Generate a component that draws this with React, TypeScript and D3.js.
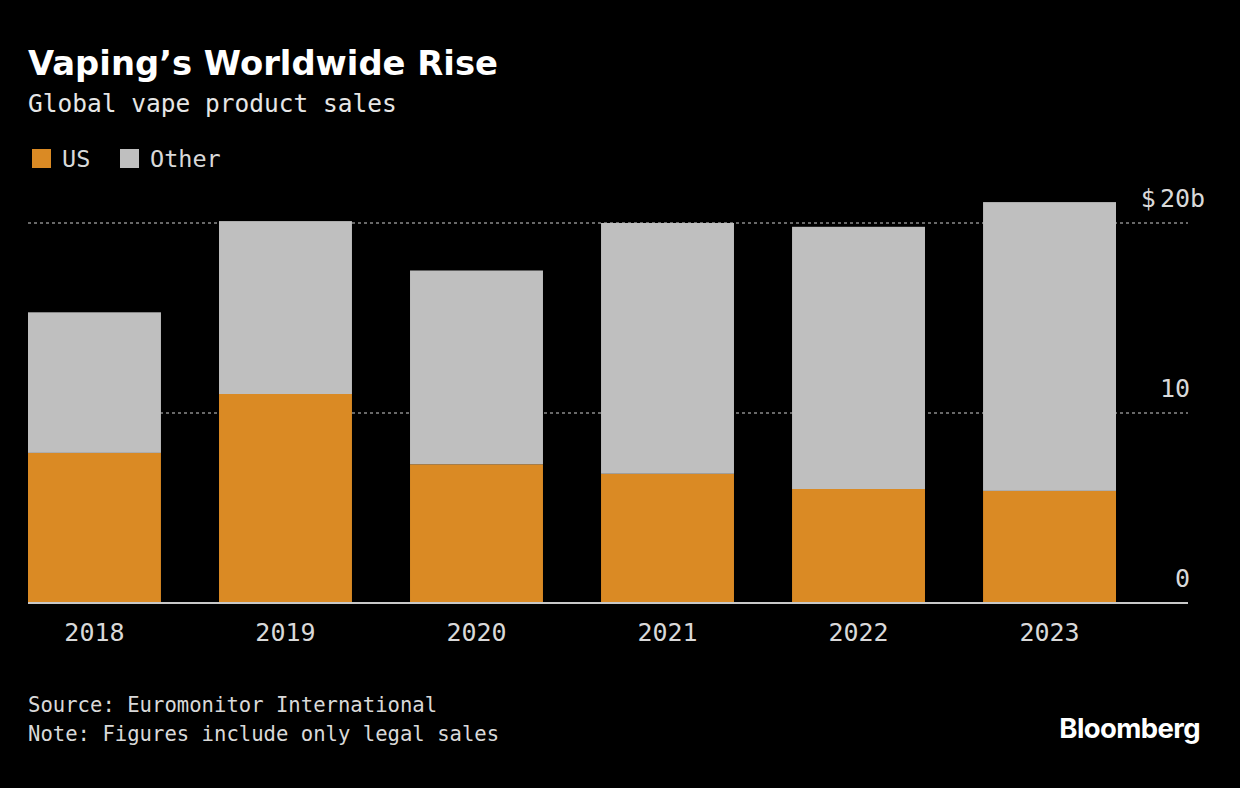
import React, { useEffect, useRef } from "react";
import * as d3 from "d3";

const years = ["2018", "2019", "2020", "2021", "2022", "2023"];
const usSales = [7.9, 11.0, 7.3, 6.8, 6.0, 5.9];
const otherSales = [7.4, 9.1, 10.2, 13.2, 13.8, 15.2];
const tickValues = [0, 10, 20];

const WIDTH = 1240;
const HEIGHT = 788;
const ORANGE = "#DA8A24";
const GRAY = "#BFBFBF";
const MONO = "'DejaVu Sans Mono', monospace";

const App = () => {
  const svgRef = useRef<SVGSVGElement>(null);

  useEffect(() => {
    const svg = d3.select(svgRef.current);
    svg.selectAll("*").remove();

    svg.append("rect").attr("width", WIDTH).attr("height", HEIGHT).attr("fill", "#000");

    // titles
    svg
      .append("text")
      .attr("x", 28)
      .attr("y", 75)
      .attr("fill", "#fff")
      .style("font-family", "'DejaVu Sans', sans-serif")
      .style("font-weight", "bold")
      .style("font-size", "33.8px")
      .text("Vaping’s Worldwide Rise");

    svg
      .append("text")
      .attr("x", 28)
      .attr("y", 112)
      .attr("fill", "#e6e6e6")
      .style("font-family", MONO)
      .style("font-size", "24.5px")
      .text("Global vape product sales");

    // legend
    const legend = [
      { label: "US", color: ORANGE, x: 32 },
      { label: "Other", color: GRAY, x: 120 },
    ];
    const lg = svg.selectAll(".legend").data(legend).enter().append("g");
    lg.append("rect")
      .attr("x", (d) => d.x)
      .attr("y", 149)
      .attr("width", 19)
      .attr("height", 19)
      .attr("fill", (d) => d.color);
    lg.append("text")
      .attr("x", (d) => d.x + 30)
      .attr("y", 167)
      .attr("fill", "#d9d9d9")
      .style("font-family", MONO)
      .style("font-size", "23.5px")
      .text((d) => d.label);

    const x = d3.scaleBand().domain(years).range([28, 1116]).paddingInner(0.304).paddingOuter(0);
    const y = d3.scaleLinear().domain([0, 20]).range([603, 223]);

    // grid
    svg
      .selectAll(".grid")
      .data(tickValues.filter((t) => t > 0))
      .enter()
      .append("line")
      .attr("x1", 28)
      .attr("x2", 1188)
      .attr("y1", (d) => y(d))
      .attr("y2", (d) => y(d))
      .attr("stroke", "#8a8a8a")
      .attr("stroke-width", 1.5)
      .attr("stroke-dasharray", "3,3");

    const table = years.map((yr, i) => ({ year: yr, us: usSales[i], other: otherSales[i] }));
    const series = d3.stack<any>().keys(["us", "other"])(table);
    const colors: Record<string, string> = { us: ORANGE, other: GRAY };

    svg
      .selectAll(".series")
      .data(series)
      .enter()
      .append("g")
      .attr("fill", (d) => colors[d.key])
      .selectAll("rect")
      .data((d) => d)
      .enter()
      .append("rect")
      .attr("x", (d: any) => x(d.data.year)!)
      .attr("width", x.bandwidth())
      .attr("y", (d) => y(d[1]))
      .attr("height", (d) => y(d[0]) - y(d[1]));

    // baseline
    svg
      .append("line")
      .attr("x1", 28)
      .attr("x2", 1188)
      .attr("y1", y(0))
      .attr("y2", y(0))
      .attr("stroke", "#c8c8c8")
      .attr("stroke-width", 2);

    // y tick labels
    const tl = svg
      .selectAll(".tick-label")
      .data(tickValues)
      .enter()
      .append("text")
      .attr("x", 1190)
      .attr("y", (d) => y(d) - 16)
      .attr("text-anchor", "end")
      .attr("fill", "#d9d9d9")
      .style("font-family", MONO)
      .style("font-size", "25px")
      .text((d) => String(d));
    tl.filter((d) => d === 20).each(function () {
      const el = this as SVGTextElement;
      const w = el.getComputedTextLength();
      svg
        .append("text")
        .attr("x", 1190 - w - 4)
        .attr("y", y(20) - 16)
        .attr("text-anchor", "end")
        .attr("fill", "#d9d9d9")
        .style("font-family", MONO)
        .style("font-size", "25px")
        .text("$");
      svg
        .append("text")
        .attr("x", 1190)
        .attr("y", y(20) - 16)
        .attr("fill", "#d9d9d9")
        .style("font-family", MONO)
        .style("font-size", "25px")
        .text("b");
    });

    // x labels
    svg
      .selectAll(".year")
      .data(years)
      .enter()
      .append("text")
      .attr("x", (d) => x(d)! + x.bandwidth() / 2)
      .attr("y", 641)
      .attr("text-anchor", "middle")
      .attr("fill", "#d9d9d9")
      .style("font-family", MONO)
      .style("font-size", "25px")
      .text((d) => d);

    // footer
    svg
      .append("text")
      .attr("x", 28)
      .attr("y", 712)
      .attr("fill", "#d9d9d9")
      .style("font-family", MONO)
      .style("font-size", "20.6px")
      .text("Source: Euromonitor International");
    svg
      .append("text")
      .attr("x", 28)
      .attr("y", 741)
      .attr("fill", "#d9d9d9")
      .style("font-family", MONO)
      .style("font-size", "20.6px")
      .text("Note: Figures include only legal sales");

    svg
      .append("text")
      .attr("x", 1200)
      .attr("y", 738)
      .attr("text-anchor", "end")
      .attr("fill", "#fff")
      .style("font-family", "Inter, sans-serif")
      .style("font-weight", 700)
      .style("font-size", "27.5px")
      .style("letter-spacing", "-0.6px")
      .text("Bloomberg");
  }, []);

  return (
    <svg
      ref={svgRef}
      width={WIDTH}
      height={HEIGHT}
      style={{ position: "fixed", left: 0, top: 0, display: "block" }}
    />
  );
};

export default App;
